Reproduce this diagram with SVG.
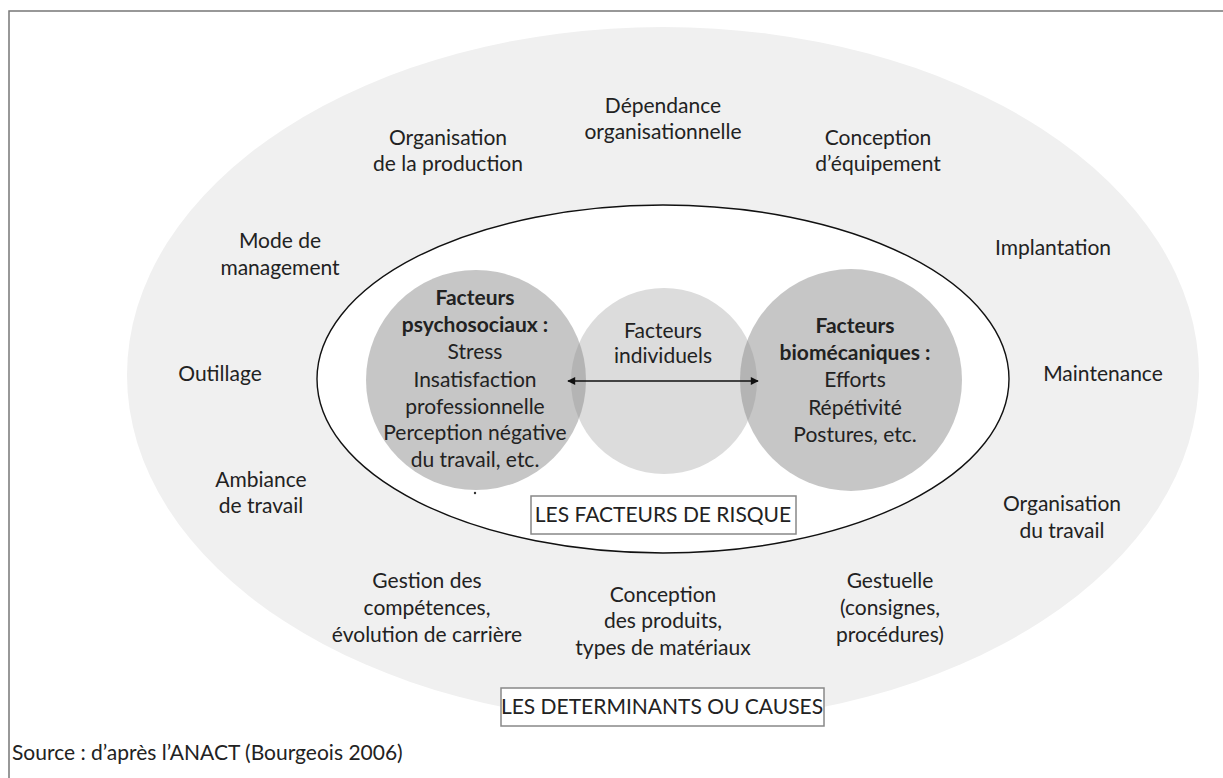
<svg xmlns="http://www.w3.org/2000/svg" width="1223" height="778" viewBox="0 0 1223 778">
<style>
text{font-family:Lato,"Open Sans","Liberation Sans",sans-serif;font-size:21px;fill:#222;text-anchor:middle}
.b{font-weight:bold}
.lbl{fill:#fff;stroke:#888;stroke-width:1.5}
.ov{fill:#8a8a8a;fill-opacity:0.49}
</style>
<defs>
<marker id="ah" viewBox="0 0 10 10" refX="9" refY="5" markerWidth="10" markerHeight="8" markerUnits="userSpaceOnUse" orient="auto-start-reverse">
<path d="M0,0 L10,5 L0,10 z" fill="#111"/>
</marker>
</defs>
<rect width="1223" height="778" fill="#fff"/>
<path d="M9,790 V11 H1230" fill="none" stroke="#777" stroke-width="1.5"/>
<g id="determinants">
<ellipse cx="663" cy="375" rx="536" ry="348" fill="#f0f0f0"/>
<text x="448" y="145">Organisation</text>
<text x="448" y="171">de la production</text>
<text x="663" y="113">Dépendance</text>
<text x="663" y="139">organisationnelle</text>
<text x="878" y="145">Conception</text>
<text x="878" y="171">d’équipement</text>
<text x="280" y="248">Mode de</text>
<text x="280" y="275">management</text>
<text x="1053" y="255">Implantation</text>
<text x="220" y="381">Outillage</text>
<text x="1103" y="381">Maintenance</text>
<text x="261" y="487">Ambiance</text>
<text x="261" y="513">de travail</text>
<text x="1062" y="511">Organisation</text>
<text x="1062" y="538">du travail</text>
<text x="427" y="588">Gestion des</text>
<text x="427" y="615">compétences,</text>
<text x="427" y="642">évolution de carrière</text>
<text x="663" y="602">Conception</text>
<text x="663" y="628">des produits,</text>
<text x="663" y="655">types de matériaux</text>
<text x="890" y="588">Gestuelle</text>
<text x="890" y="615">(consignes,</text>
<text x="890" y="642">procédures)</text>
</g>
<g id="facteurs-risque">
<ellipse cx="663" cy="379" rx="346" ry="174" fill="#fff" stroke="#111" stroke-width="1.4"/>
</g>
<g id="facteurs-individuels">
<circle cx="664" cy="381" r="93" fill="#dcdcdc"/>
<text x="663" y="338">Facteurs</text>
<text x="663" y="363">individuels</text>
</g>
<g id="facteurs-psychosociaux">
<circle cx="476" cy="380" r="110" class="ov"/>
<text x="475" y="305" class="b">Facteurs</text>
<text x="475" y="332" class="b">psychosociaux :</text>
<text x="475" y="359">Stress</text>
<text x="475" y="387">Insatisfaction</text>
<text x="475" y="414">professionnelle</text>
<text x="475" y="440">Perception négative</text>
<text x="475" y="467">du travail, etc.</text>
<circle cx="475" cy="493" r="1.2" fill="#333"/>
</g>
<g id="facteurs-biomecaniques">
<circle cx="851" cy="380" r="111" class="ov"/>
<text x="855" y="333" class="b">Facteurs</text>
<text x="855" y="360" class="b">biomécaniques :</text>
<text x="855" y="387">Efforts</text>
<text x="855" y="415">Répétivité</text>
<text x="855" y="442">Postures, etc.</text>
</g>
<g id="connectors">
<line x1="568" y1="381" x2="758" y2="381" stroke="#111" stroke-width="1.3" marker-start="url(#ah)" marker-end="url(#ah)"/>
</g>
<g id="label-risque">
<rect x="531" y="496" width="265" height="38" class="lbl"/>
<text x="663" y="522">LES FACTEURS DE RISQUE</text>
</g>
<g id="label-determinants">
<rect x="501" y="688" width="323" height="38" class="lbl"/>
<text x="662" y="714">LES DETERMINANTS OU CAUSES</text>
</g>
<g id="source">
<text x="12" y="760" style="text-anchor:start">Source : d’après l’ANACT (Bourgeois 2006)</text>
</g>
</svg>
